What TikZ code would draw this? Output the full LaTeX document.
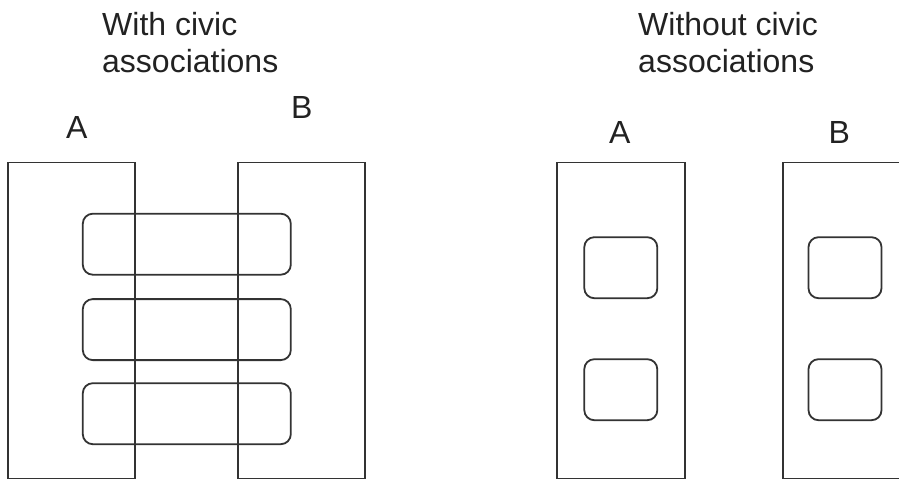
\documentclass[tikz,border=0pt]{standalone}
\usepackage{fontspec}
\setmainfont{Liberation Sans}
\definecolor{linegray}{HTML}{333333}
\definecolor{textgray}{HTML}{222222}
\begin{document}
\begin{tikzpicture}[x=1pt,y=-1pt,
  colbox/.style={draw=linegray, line width=1.8pt, inner sep=0pt, minimum width=127pt, minimum height=316pt},
  pill/.style={draw=linegray, line width=1.8pt, inner sep=0pt, rounded corners=10pt, minimum width=208pt, minimum height=61pt},
  sq/.style={draw=linegray, line width=1.8pt, inner sep=0pt, rounded corners=10pt, minimum width=73pt, minimum height=61pt},
  lbl/.style={anchor=base west, inner sep=0pt, text=textgray, font=\fontsize{32}{37}\selectfont}]
\useasboundingbox (0,0) rectangle (899,479);
\clip (0,0) rectangle (899,479);
% left panel
\node[lbl] (t1a) at (102,35) {With civic};
\node[lbl] (t1b) at (102,72) {associations};
\node[lbl] (la) at (66,138) {A};
\node[lbl] (lb) at (291,118) {B};
\node[colbox] (colA) at (71.8,320.5) {};
\node[colbox] (colB) at (301.5,320.5) {};
\node[pill] (p1) at (186.8,244.2) {};
\node[pill] (p2) at (186.8,329.6) {};
\node[pill] (p3) at (186.8,413.7) {};
% right panel
\node[lbl] (t2a) at (638,35) {Without civic};
\node[lbl] (t2b) at (638,72) {associations};
\node[lbl] (ra) at (609,143) {A};
\node[lbl] (rb) at (828.5,143) {B};
\node[colbox, minimum width=128pt] (colC) at (620.8,320.5) {};
\node[colbox, minimum width=128pt] (colD) at (846.7,320.5) {};
\node[sq] (s1) at (620.8,267.7) {};
\node[sq] (s2) at (620.8,389.7) {};
\node[sq] (s3) at (845,267.7) {};
\node[sq] (s4) at (845,389.7) {};
\end{tikzpicture}
\end{document}
